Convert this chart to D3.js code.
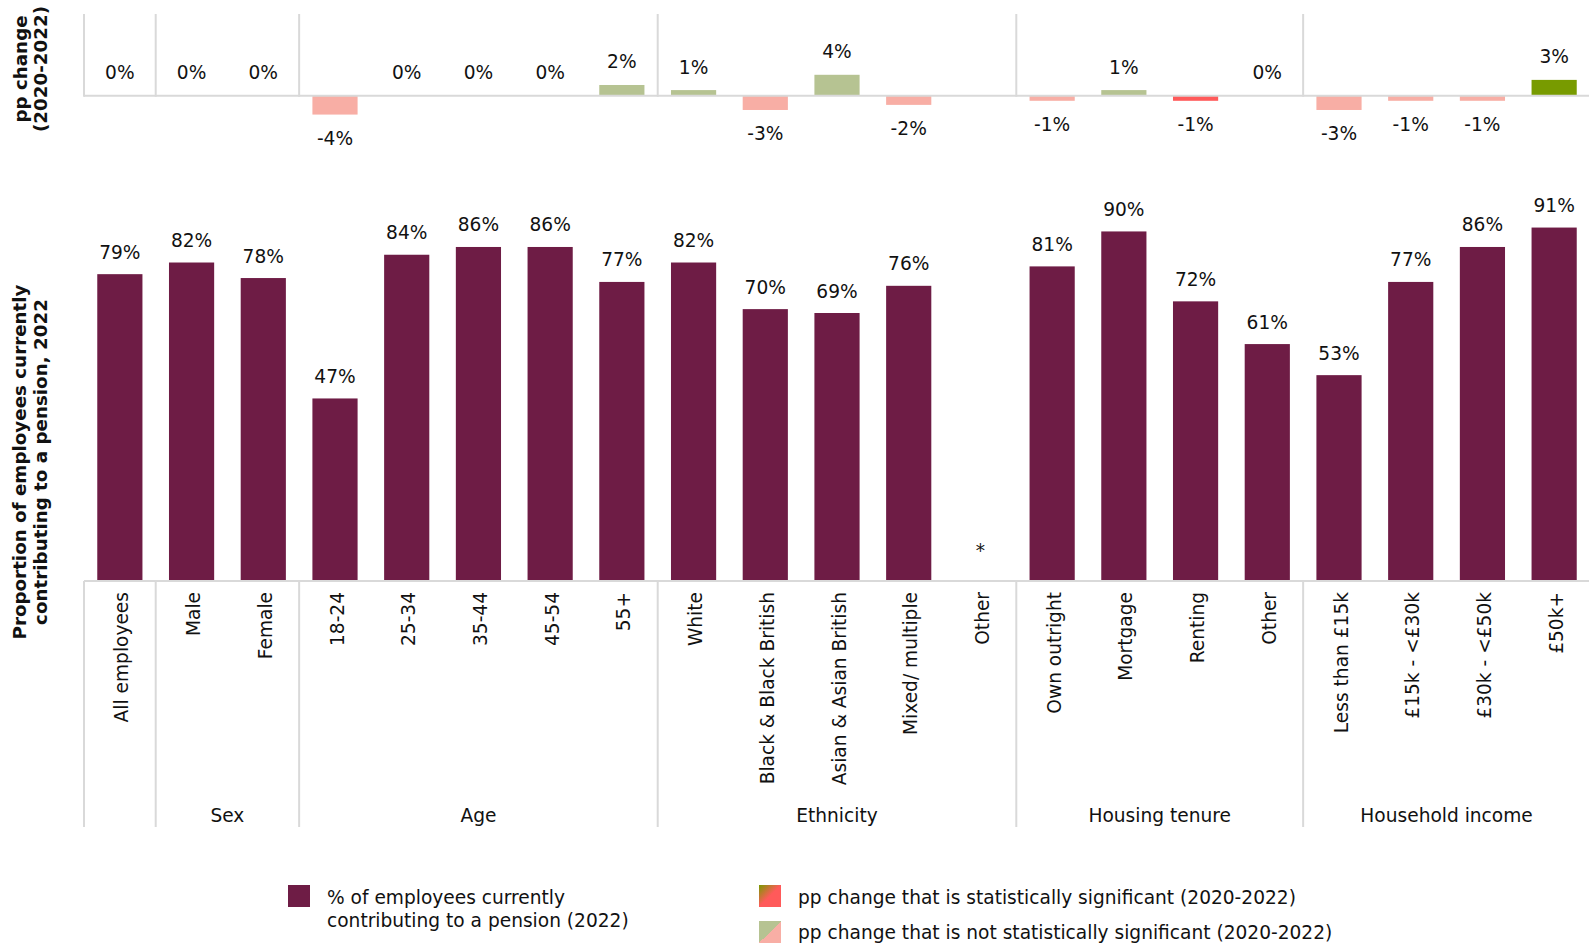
<!DOCTYPE html>
<html>
<head>
<meta charset="utf-8">
<script src="https://cdn.jsdelivr.net/npm/d3@7"></script>
<style>
  html, body { margin: 0; padding: 0; background: #fff; }
  svg { display: block; }
  text { font-family: "DejaVu Sans", Verdana, sans-serif; fill: #111; }
</style>
</head>
<body>
<svg id="chart" width="1589" height="945"></svg>
<script>
// ---------- DATA ----------
const categories = ["All employees", "Male", "Female", "18-24", "25-34", "35-44", "45-54", "55+",
  "White", "Black & Black British", "Asian & Asian British", "Mixed/ multiple", "Other",
  "Own outright", "Mortgage", "Renting", "Other ",
  "Less than £15k", "£15k - <£30k", "£30k - <£50k", "£50k+"];
const tickLabels = ["All employees", "Male", "Female", "18-24", "25-34", "35-44", "45-54", "55+",
  "White", "Black & Black British", "Asian & Asian British", "Mixed/ multiple", "Other",
  "Own outright", "Mortgage", "Renting", "Other",
  "Less than £15k", "£15k - <£30k", "£30k - <£50k", "£50k+"];
const groupNames = ["", "Sex", "Age", "Ethnicity", "Housing tenure", "Household income"];
const groupSizes = [1, 2, 5, 5, 4, 4];
const contributing2022 = [79, 82, 78, 47, 84, 86, 86, 77, 82, 70, 69, 76, null, 81, 90, 72, 61, 53, 77, 86, 91];
const ppChange = [0, 0, 0, -3.7, 0, 0, 0, 2.1, 1.1, -2.8, 4.1, -1.8, null, -1.0, 1.1, -1.0, 0, -2.8, -1.0, -1.0, 3.1];
const significant = [false, false, false, false, false, false, false, false, false, false, false, false, false,
  false, false, true, false, false, false, false, true];
const legendLabels = [["% of employees currently", "contributing to a pension (2022)"],
  ["pp change that is statistically significant (2020-2022)"],
  ["pp change that is not statistically significant (2020-2022)"]];

// ---------- STYLE ----------
const C = {
  bar: "#6e1c45",
  sigPos: "#789b00", sigNeg: "#ff5a5a",
  nsPos: "#b6c392", nsNeg: "#f8aea5",
  grid: "#d9d9d9"
};
const FS = 18.6;
const FSB = 18.3;

const svg = d3.select("#chart");
const left = 84, right = 1590;

const x = d3.scaleBand().domain(categories).range([left, right]).paddingInner(0.37).paddingOuter(0.185);
const xOuter = d3.scaleBand().domain(categories).range([left, right]).padding(0);
const y = d3.scaleLinear().domain([0, 100]).range([581, 192.6]);
const yTop = d3.scaleLinear().domain([-5, 5]).range([121.2, 70.2]);

// group boundaries
const starts = [];
let acc = 0;
groupSizes.forEach(s => { starts.push(acc); acc += s; });

// ---------- TOP PANEL ----------
const topG = svg.append("g");
topG.selectAll("line.sep").data(starts).join("line")
  .attr("class", "sep")
  .attr("x1", i => xOuter(categories[i])).attr("x2", i => xOuter(categories[i]))
  .attr("y1", 14).attr("y2", yTop(0) + 1)
  .attr("stroke", C.grid).attr("stroke-width", 2);

const topData = categories.map((c, i) => ({ c, v: ppChange[i], s: significant[i] })).filter(d => d.v !== null);
topG.selectAll("rect").data(topData).join("rect")
  .attr("x", d => x(d.c))
  .attr("width", x.bandwidth())
  .attr("y", d => yTop(Math.max(0, d.v)))
  .attr("height", d => Math.abs(yTop(d.v) - yTop(0)))
  .attr("fill", d => d.s ? (d.v >= 0 ? C.sigPos : C.sigNeg) : (d.v >= 0 ? C.nsPos : C.nsNeg));

topG.append("line")
  .attr("x1", left).attr("x2", right)
  .attr("y1", yTop(0)).attr("y2", yTop(0))
  .attr("stroke", C.grid).attr("stroke-width", 2);

topG.selectAll("text.lab").data(topData).join("text")
  .attr("class", "lab")
  .attr("x", d => x(d.c) + x.bandwidth() / 2)
  .attr("y", d => Math.round(d.v) >= 0 ? yTop(Math.max(0, d.v)) - 23 : yTop(d.v) + 24)
  .attr("text-anchor", "middle").attr("dominant-baseline", "central")
  .attr("font-size", FS)
  .text(d => Math.round(d.v) + "%");

// top title
const tt = svg.append("text")
  .attr("transform", "translate(0,69) rotate(-90)")
  .attr("text-anchor", "middle").attr("font-size", FSB).attr("font-weight", "bold");
tt.append("tspan").attr("x", 0).attr("y", 20).attr("dominant-baseline", "central").text("pp change");
tt.append("tspan").attr("x", 0).attr("y", 40).attr("dominant-baseline", "central").text("(2020-2022)");

// ---------- MAIN PANEL ----------
const mainG = svg.append("g");
const mainData = categories.map((c, i) => ({ c, v: contributing2022[i] }));

mainG.selectAll("rect").data(mainData.filter(d => d.v !== null)).join("rect")
  .attr("x", d => x(d.c)).attr("width", x.bandwidth())
  .attr("y", d => y(d.v)).attr("height", d => y(0) - y(d.v))
  .attr("fill", C.bar);

mainG.selectAll("text.lab").data(mainData).join("text")
  .attr("class", "lab")
  .attr("x", d => x(d.c) + x.bandwidth() / 2)
  .attr("y", d => d.v === null ? 550 : y(d.v) - 22)
  .attr("text-anchor", "middle").attr("dominant-baseline", "central")
  .attr("font-size", FS)
  .text(d => d.v === null ? "*" : d.v + "%");

// axis line
mainG.append("line").attr("x1", left).attr("x2", right)
  .attr("y1", y(0)).attr("y2", y(0))
  .attr("stroke", C.grid).attr("stroke-width", 2);

// group separators
mainG.selectAll("line.sep").data(starts).join("line")
  .attr("class", "sep")
  .attr("x1", i => xOuter(categories[i])).attr("x2", i => xOuter(categories[i]))
  .attr("y1", y(0)).attr("y2", 827)
  .attr("stroke", C.grid).attr("stroke-width", 2);

// tick labels (rotated)
const xAxis = d3.axisBottom(x).tickSize(0).tickFormat((d, i) => tickLabels[i]);
const ax = mainG.append("g").attr("transform", `translate(0,${y(0)})`).call(xAxis);
ax.attr("font-family", null).attr("font-size", null);
ax.select(".domain").remove();
ax.selectAll("text")
  .attr("font-size", FS).attr("fill", "#111")
  .attr("text-anchor", "end")
  .attr("dy", null).attr("y", null)
  .attr("dominant-baseline", "central")
  .attr("transform", "translate(2,11) rotate(-90)");

// group labels
mainG.selectAll("text.grp").data(starts).join("text")
  .attr("class", "grp")
  .attr("x", (s, gi) => {
    const a = xOuter(categories[s]);
    const b = xOuter(categories[s + groupSizes[gi] - 1]) + xOuter.bandwidth();
    return (a + b) / 2;
  })
  .attr("y", 815)
  .attr("text-anchor", "middle").attr("dominant-baseline", "central")
  .attr("font-size", FS)
  .text((s, gi) => groupNames[gi]);

// main title
const mt = svg.append("text")
  .attr("transform", "translate(0,462) rotate(-90)")
  .attr("text-anchor", "middle").attr("font-size", FSB).attr("font-weight", "bold");
mt.append("tspan").attr("x", 0).attr("y", 19).attr("dominant-baseline", "central").text("Proportion of employees currently");
mt.append("tspan").attr("x", 0).attr("y", 40).attr("dominant-baseline", "central").text("contributing to a pension, 2022");

// ---------- LEGEND ----------
const defs = svg.append("defs");
const g1 = defs.append("linearGradient").attr("id", "gSig")
  .attr("x1", "0%").attr("y1", "0%").attr("x2", "100%").attr("y2", "100%");
g1.append("stop").attr("offset", "0%").attr("stop-color", C.sigPos);
g1.append("stop").attr("offset", "50%").attr("stop-color", C.sigNeg);
g1.append("stop").attr("offset", "100%").attr("stop-color", C.sigNeg);
const g2 = defs.append("linearGradient").attr("id", "gNs")
  .attr("x1", "0%").attr("y1", "0%").attr("x2", "100%").attr("y2", "100%");
g2.append("stop").attr("offset", "0%").attr("stop-color", C.nsPos);
g2.append("stop").attr("offset", "50%").attr("stop-color", C.nsPos);
g2.append("stop").attr("offset", "50%").attr("stop-color", C.nsNeg);
g2.append("stop").attr("offset", "100%").attr("stop-color", C.nsNeg);

const legend = svg.append("g");
const legItems = [
  { x: 288, y: 885, fill: C.bar, tx: 327, ty: [897.7, 920], lines: legendLabels[0] },
  { x: 759, y: 885, fill: "url(#gSig)", tx: 798, ty: [897.7], lines: legendLabels[1] },
  { x: 759, y: 921, fill: "url(#gNs)", tx: 798, ty: [932], lines: legendLabels[2] }
];
legItems.forEach(it => {
  legend.append("rect").attr("x", it.x).attr("y", it.y).attr("width", 22).attr("height", 22).attr("fill", it.fill);
  it.lines.forEach((l, i) => {
    legend.append("text").attr("x", it.tx).attr("y", it.ty[i])
      .attr("dominant-baseline", "central").attr("font-size", FS).text(l);
  });
});
</script>
</body>
</html>
